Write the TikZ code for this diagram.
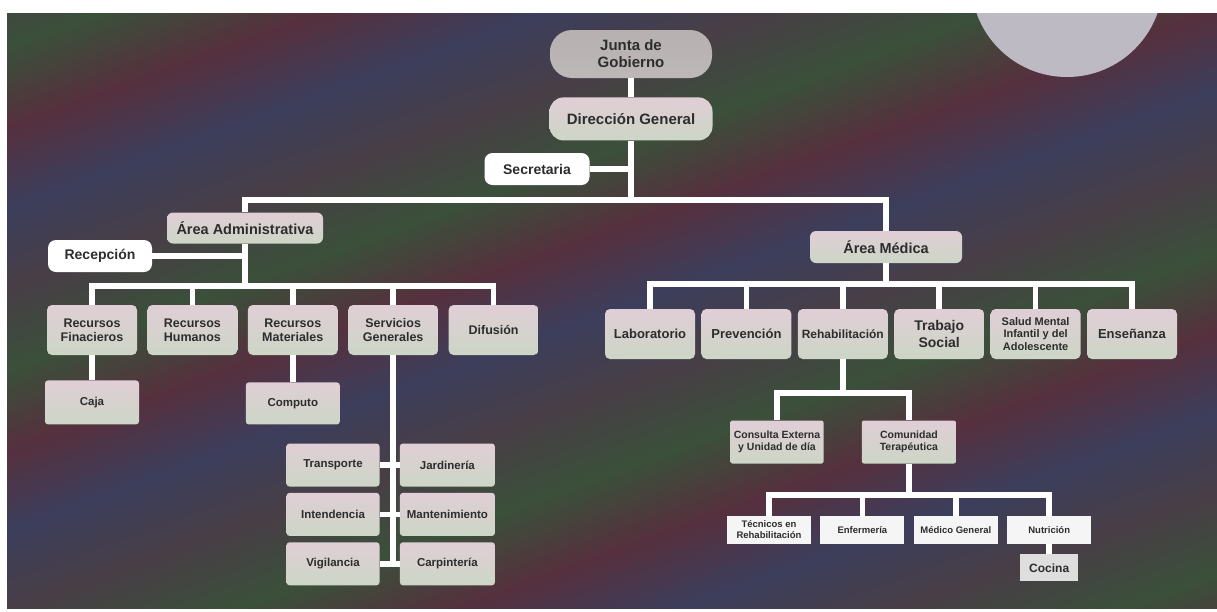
\documentclass[tikz,border=0pt]{standalone}
\usepackage{fontspec}
\setmainfont{Liberation Sans}
\usetikzlibrary{positioning}

\definecolor{bgA}{RGB}{58,80,58}
\definecolor{bgB}{RGB}{86,48,62}
\definecolor{bgC}{RGB}{60,62,92}
\definecolor{bgD}{RGB}{72,62,70}
\definecolor{boxtop}{RGB}{224,206,214}
\definecolor{boxbot}{RGB}{204,214,198}
\definecolor{juntagray}{RGB}{182,176,176}
\definecolor{txtgray}{RGB}{45,45,45}
\definecolor{moon}{RGB}{190,186,196}
\definecolor{cocinagray}{RGB}{222,222,222}

\pgfdeclarehorizontalshading{stripes}{100bp}{color(0bp)=(bgA); color(5bp)=(bgB);
  color(10bp)=(bgC); color(15bp)=(bgD); color(20bp)=(bgA); color(25bp)=(bgB);
  color(30bp)=(bgC); color(35bp)=(bgD); color(40bp)=(bgA); color(45bp)=(bgB);
  color(50bp)=(bgC); color(55bp)=(bgD); color(60bp)=(bgA); color(65bp)=(bgB);
  color(70bp)=(bgC); color(75bp)=(bgD); color(80bp)=(bgA); color(85bp)=(bgB);
  color(90bp)=(bgC); color(95bp)=(bgD); color(100bp)=(bgA)}

\begin{document}
\begin{tikzpicture}[
    x=1pt, y=-1pt,
    org/.style={text=txtgray, align=center, inner sep=1pt,
                font=\fontsize{#1}{\fpeval{#1*1.15}}\selectfont\bfseries},
    block/.style={rectangle, top color=boxtop, bottom color=boxbot, rounded corners=5pt,
                  minimum width=90pt, minimum height=50pt, org=12.5},
    areablock/.style={block, rounded corners=6pt, minimum height=31pt, org=14.5},
    whiteblock/.style={rectangle, fill=white, rounded corners=8pt, minimum width=104pt,
                  minimum height=32pt, org=14},
    smallblock/.style={block, rounded corners=3pt, minimum width=94pt, minimum height=43pt, org=11.5},
    subblock/.style={block, rounded corners=2pt, minimum width=93pt, minimum height=43pt, org=10.5},
    leafblock/.style={rectangle, fill=white!96!black, minimum width=84pt, minimum height=28pt, org=9.5},
    line/.style={draw=white, line width=5.5pt}
]
\useasboundingbox (0,0) rectangle (1217,611);
\fill[white] (0,0) rectangle (1217,611);
\shade[shading=stripes, shading angle=-70] (7,13) rectangle (1217,608);
\begin{scope}
  \clip (7,13) rectangle (1217,608);
  \fill[moon] (1067,-19) circle[radius=96pt];
\end{scope}

% Direccion
\node [block, top color=juntagray, bottom color=juntagray!90!white, rounded corners=22pt,
       minimum width=162pt, minimum height=48pt, org=15] (junta) at (631,54) {Junta de\\Gobierno};
\node [block, rounded corners=14pt, minimum width=163pt, minimum height=43pt, org=15,
       below=19pt of junta] (dir) {Dirección General};
\node [whiteblock, minimum width=105pt] (secre) at (537,169) {Secretaria};

% Areas
\node [areablock, minimum width=156pt] (admin) at (245,228) {Área Administrativa};
\node [areablock, minimum width=152pt, minimum height=32pt] (medica) at (886,247) {Área Médica};
\node [whiteblock] (recep) at (100,256) {Recepción};

% Area Administrativa
\node [block] (rfin) at (92,330) {Recursos\\Finacieros};
\node [block, right=10pt of rfin] (rhum) {Recursos\\Humanos};
\node [block, right=10pt of rhum] (rmat) {Recursos\\Materiales};
\node [block, right=10pt of rmat] (sgen) {Servicios\\Generales};
\node [block, right=10pt of sgen] (difu) {Difusión};
\node [smallblock, minimum height=44pt, below=25pt of rfin] (caja) {Caja};
\node [smallblock, minimum height=42pt, below=27pt of rmat] (compu) {Computo};

% Servicios Generales
\node [smallblock, minimum width=93pt] (transp) at (333,465) {Transporte};
\node [smallblock, minimum width=93pt, below=6pt of transp] (intend) {Intendencia};
\node [smallblock, minimum width=93pt, below=6pt of intend] (vigil) {Vigilancia};
\node [smallblock, minimum width=95pt, right=20pt of transp] (jardin) {Jardinería};
\node [smallblock, minimum width=95pt, right=20pt of intend] (mante) {Mantenimiento};
\node [smallblock, minimum width=95pt, right=20pt of vigil] (carpi) {Carpintería};

% Area Medica
\node [block, org=13] (labo) at (650,334) {Laboratorio};
\node [block, org=13, right=6pt of labo] (preve) {Prevención};
\node [block, org=12, right=6pt of preve] (rehab) {Rehabilitación};
\node [block, org=14, right=6pt of rehab] (tsoc) {Trabajo\\Social};
\node [block, org=11, right=6pt of tsoc] (salud) {Salud Mental\\Infantil y del\\Adolescente};
\node [block, org=13, right=6pt of salud] (ense) {Enseñanza};

% Rehabilitacion
\node [subblock] (cext) at (777,442) {Consulta Externa\\y Unidad de día};
\node [subblock, minimum width=94pt, right=38pt of cext] (cter) {Comunidad\\Terapéutica};
\node [leafblock] (tecn) at (769,530) {Técnicos en\\Rehabilitación};
\node [leafblock, right=9pt of tecn] (enfer) {Enfermería};
\node [leafblock, right=9pt of enfer] (medg) {Médico General};
\node [leafblock, right=9pt of medg] (nutri) {Nutrición};
\node [leafblock, fill=cocinagray, minimum width=58pt, minimum height=27pt, org=12,
       below=10pt of nutri] (cocina) {Cocina};

% Connect direccion
\coordinate (split1) at (dir.south |- 0,200);
\draw [line] (junta) -- (dir);
\draw [line] (dir.south) -- (split1);
\draw [line] (secre.east) -- (secre.east -| dir.south);
\draw [line] (admin.north) |- (split1) -| (medica.north);

% Connect area administrativa
\coordinate (split2) at (admin.south |- 0,286);
\draw [line] (admin.south) -- (split2);
\draw [line] (recep.east) -- (recep.east -| admin.south);
\foreach \n in {rfin,rhum,rmat,sgen,difu}
  \draw [line] (split2) -| (\n.north);
\draw [line] (rfin) -- (caja);
\draw [line] (rmat) -- (compu);
\draw [line] (sgen.south) -- (sgen.south |- vigil.center);
\draw [line] (transp.east) -- (jardin.west);
\draw [line] (intend.east) -- (mante.west);
\draw [line] (vigil.east) -- (carpi.west);

% Connect area medica
\coordinate (split3) at (medica.south |- 0,284);
\draw [line] (medica.south) -- (split3);
\foreach \n in {labo,preve,rehab,tsoc,salud,ense}
  \draw [line] (split3) -| (\n.north);
\coordinate (split4) at (rehab.south |- 0,393);
\draw [line] (rehab.south) -- (split4);
\draw [line] (split4) -| (cext.north);
\draw [line] (split4) -| (cter.north);
\coordinate (split5) at (cter.south |- 0,495);
\draw [line] (cter.south) -- (split5);
\foreach \n in {tecn,enfer,medg,nutri}
  \draw [line] (split5) -| (\n.north);
\draw [line] (nutri) -- (cocina);

\end{tikzpicture}
\end{document}
